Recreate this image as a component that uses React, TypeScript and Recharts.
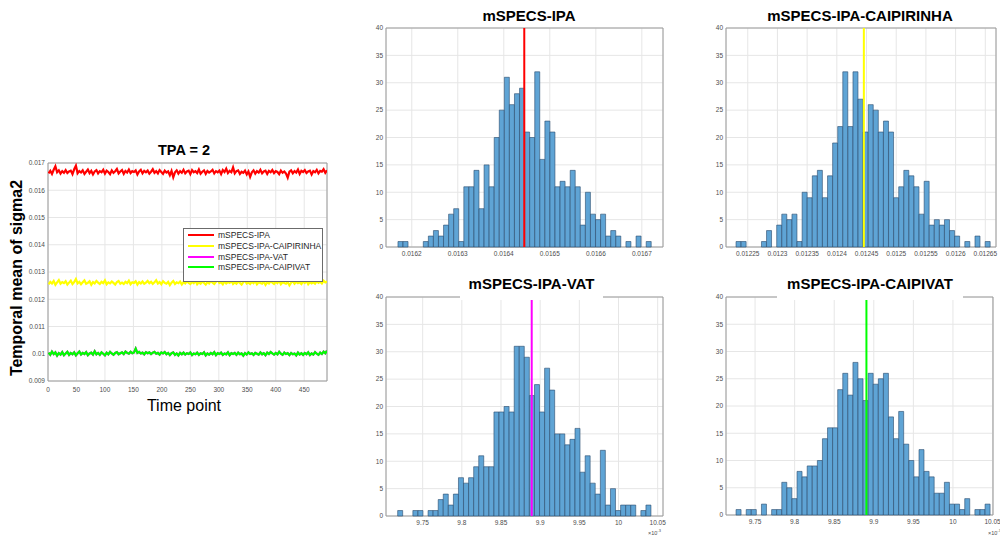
import {
  LineChart, Line, BarChart, Bar, XAxis, YAxis, CartesianGrid,
  ReferenceLine, ReferenceArea, Legend,
} from 'recharts'

const FONT = '"Liberation Sans", Arial, Helvetica, sans-serif'
const BOX_GREY = '#9a9a9a'
const GRID_GREY = '#e6e6e6'
const TICK_TEXT = '#4d4d4d'
const BAR_FILL = '#5fa4d5'
const BAR_EDGE = '#284a6b'

// ---- TPA = 2 : temporal mean of sigma2, sampled every 3rd time point (units of 1e-3) ----
const ipaTrace = [
  16.62, 16.71, 16.60, 16.75, 16.88, 16.66, 16.73, 16.61, 16.70, 16.64,
  16.74, 16.63, 16.69, 16.72, 16.59, 16.77, 16.90, 16.62, 16.70, 16.65,
  16.73, 16.60, 16.68, 16.76, 16.63, 16.71, 16.58, 16.69, 16.74, 16.62,
  16.70, 16.66, 16.75, 16.61, 16.72, 16.67, 16.59, 16.73, 16.64, 16.70,
  16.78, 16.62, 16.69, 16.74, 16.60, 16.71, 16.65, 16.76, 16.63, 16.70,
  16.67, 16.73, 16.58, 16.69, 16.75, 16.62, 16.71, 16.66, 16.72, 16.61,
  16.68, 16.77, 16.64, 16.70, 16.62, 16.74, 16.67, 16.60, 16.72, 16.65,
  16.69, 16.55, 16.71, 16.48, 16.66, 16.73, 16.61, 16.70, 16.64, 16.75,
  16.62, 16.69, 16.72, 16.59, 16.74, 16.66, 16.70, 16.63, 16.76, 16.61,
  16.68, 16.73, 16.60, 16.71, 16.65, 16.69, 16.75, 16.62, 16.70, 16.66,
  16.72, 16.59, 16.74, 16.67, 16.79, 16.63, 16.71, 16.66, 16.84, 16.62,
  16.70, 16.73, 16.60, 16.68, 16.64, 16.72, 16.58, 16.69, 16.49, 16.66,
  16.73, 16.61, 16.70, 16.65, 16.75, 16.62, 16.69, 16.72, 16.60, 16.71,
  16.66, 16.74, 16.63, 16.70, 16.67, 16.59, 16.72, 16.64, 16.69, 16.61,
  16.46, 16.68, 16.73, 16.62, 16.70, 16.65, 16.76, 16.60, 16.71, 16.67,
  16.74, 16.63, 16.69, 16.72, 16.58, 16.70, 16.66, 16.75, 16.62, 16.71,
  16.68, 16.77, 16.64, 16.73,
]
const caipirinhaTrace = [
  12.55, 12.64, 12.58, 12.67, 12.53, 12.62, 12.70, 12.57, 12.63, 12.59,
  12.66, 12.54, 12.61, 12.68, 12.56, 12.63, 12.74, 12.58, 12.64, 12.55,
  12.62, 12.69, 12.57, 12.60, 12.66, 12.53, 12.63, 12.58, 12.67, 12.61,
  12.56, 12.64, 12.59, 12.69, 12.55, 12.62, 12.58, 12.65, 12.60, 12.54,
  12.63, 12.67, 12.57, 12.61, 12.56, 12.64, 12.59, 12.68, 12.55, 12.62,
  12.60, 12.66, 12.54, 12.63, 12.58, 12.65, 12.57, 12.61, 12.67, 12.59,
  12.64, 12.56, 12.62, 12.70, 12.58, 12.63, 12.55, 12.66, 12.60, 12.57,
  12.64, 12.52, 12.61, 12.67, 12.56, 12.62, 12.59, 12.65, 12.54, 12.63,
  12.58, 12.66, 12.60, 12.56, 12.64, 12.59, 12.68, 12.55, 12.62, 12.57,
  12.65, 12.60, 12.54, 12.63, 12.58, 12.67, 12.61, 12.56, 12.64, 12.71,
  12.59, 12.62, 12.55, 12.66, 12.58, 12.63, 12.60, 12.68, 12.56, 12.62,
  12.57, 12.65, 12.60, 12.54, 12.63, 12.69, 12.58, 12.61, 12.56, 12.64,
  12.59, 12.67, 12.55, 12.62, 12.60, 12.57, 12.65, 12.53, 12.62, 12.58,
  12.66, 12.61, 12.56, 12.64, 12.59, 12.68, 12.55, 12.62, 12.60, 12.57,
  12.63, 12.51, 12.61, 12.66, 12.57, 12.64, 12.59, 12.62, 12.56, 12.65,
  12.60, 12.67, 12.55, 12.63, 12.58, 12.62, 12.57, 12.66, 12.60, 12.64,
  12.58, 12.68, 12.62, 12.65,
]
const caipivatTrace = [
  10.04, 9.96, 10.08, 9.99, 10.05, 9.93, 10.02, 9.97, 10.06, 9.95,
  10.01, 10.07, 9.96, 10.03, 9.98, 10.05, 9.94, 10.02, 10.08, 9.97,
  10.03, 9.99, 10.06, 9.95, 10.01, 10.04, 9.97, 10.09, 9.98, 10.03,
  9.96, 10.05, 10.00, 9.94, 10.04, 9.98, 10.07, 10.01, 9.96, 10.03,
  10.06, 9.98, 10.02, 10.05, 9.99, 10.08, 10.03, 10.00, 10.07, 10.02,
  10.05, 10.19, 10.03, 10.07, 10.01, 10.04, 9.98, 10.06, 10.02, 10.05,
  9.99, 10.04, 10.07, 10.00, 10.03, 9.97, 10.05, 10.01, 10.06, 9.98,
  10.03, 9.95, 10.02, 10.05, 9.96, 10.01, 9.94, 10.03, 9.98, 10.04,
  9.97, 10.02, 9.99, 10.05, 9.95, 10.01, 9.98, 10.04, 9.96, 10.02,
  9.99, 10.05, 9.94, 10.01, 9.97, 10.03, 9.98, 10.06, 9.95, 10.02,
  9.99, 10.04, 9.96, 10.01, 9.98, 10.05, 9.95, 10.02, 9.99, 10.03,
  9.96, 10.04, 9.98, 10.01, 9.93, 10.02, 9.97, 10.05, 9.99, 10.02,
  9.96, 10.03, 10.00, 9.97, 10.05, 9.98, 10.02, 9.95, 10.04, 9.99,
  10.06, 10.01, 9.97, 10.03, 9.98, 10.07, 10.00, 9.96, 10.04, 9.99,
  10.02, 9.95, 10.03, 9.98, 10.01, 9.94, 10.04, 9.97, 10.02, 9.96,
  10.03, 9.98, 10.05, 9.95, 10.01, 9.97, 10.06, 10.00, 9.96, 10.04,
  9.99, 10.08, 10.02, 10.11,
]
// the magenta VAT trace is completely hidden under the green one in the figure
const vatTrace = caipivatTrace

const timeTicks = [0, 50, 100, 150, 200, 250, 300, 350, 400, 450]
const sigmaTicks = [9, 10, 11, 12, 13, 14, 15, 16, 17]

const seriesKeys = ['ipa', 'caipirinha', 'vat', 'caipivat']
const seriesNames = ['mSPECS-IPA', 'mSPECS-IPA-CAIPIRINHA', 'mSPECS-IPA-VAT', 'mSPECS-IPA-CAIPIVAT']
const seriesColors = ['#ff0000', '#ffff00', '#ff00ff', '#00ff00']

// ---- histograms: 50 bins each, counts ----
const countTicks = [0, 5, 10, 15, 20, 25, 30, 35, 40]

const ipaCounts = [1, 1, 0, 0, 0, 1, 2, 3, 2, 4, 6, 7, 1, 11, 11, 14, 7, 15, 11, 20, 25, 31, 26, 28, 29, 21, 20, 32, 16, 23, 21, 11, 12, 11, 14, 11, 4, 10, 6, 5, 6, 2, 3, 2, 0, 1, 0, 2, 0, 1]
const ipaBins = { start: 0.01617, width: 0.00001101, mean: 0.0164445 }
const ipaXDomain = [0.016144, 0.016746]
const ipaXTicks = [0.0162, 0.0163, 0.0164, 0.0165, 0.0166, 0.0167]

const caipirinhaCounts = [1, 1, 0, 0, 0, 1, 3, 0, 4, 6, 5, 6, 1, 10, 9, 13, 14, 9, 13, 19, 22, 32, 22, 32, 27, 21, 26, 25, 21, 23, 21, 9, 11, 14, 13, 11, 6, 12, 4, 5, 4, 5, 3, 2, 0, 1, 0, 2, 0, 1]
const caipirinhaBins = { start: 0.0122303, width: 0.00000856, mean: 0.0124455 }
const caipirinhaXDomain = [0.0122134, 0.012668]
const caipirinhaXTicks = [0.01225, 0.0123, 0.01235, 0.0124, 0.01245, 0.0125, 0.01255, 0.0126, 0.01265]

// VAT / CAIPIVAT axes are shown in units of 1e-3
const vatCounts = [1, 0, 0, 1, 1, 0, 1, 1, 3, 4, 2, 4, 7, 6, 7, 9, 11, 9, 9, 19, 19, 20, 19, 31, 31, 29, 22, 24, 19, 27, 23, 15, 15, 13, 14, 16, 8, 11, 6, 4, 12, 2, 5, 1, 2, 2, 2, 0, 1, 2]
const vatBins = { start: 9.7181, width: 0.006468, mean: 9.8892 }
const vatXDomain = [9.7032, 10.0568]

const caipivatCounts = [1, 0, 1, 1, 0, 2, 0, 1, 1, 6, 5, 3, 8, 7, 9, 9, 10, 14, 16, 16, 23, 26, 22, 28, 25, 21, 26, 24, 25, 26, 18, 14, 19, 13, 10, 7, 12, 8, 7, 4, 4, 6, 2, 2, 1, 3, 0, 1, 1, 2]
const caipivatBins = { start: 9.726, width: 0.00642, mean: 9.8907 }
const caipivatXDomain = [9.7133, 10.0506]

const milliTicks = [9.75, 9.8, 9.85, 9.9, 9.95, 10, 10.05]

type Box = { x: number; y: number; w: number; h: number }

const tickStyle = { fontSize: 6.5, fill: TICK_TEXT }

function Histogram({ box, counts, bins, color, xDomain, xTicks }: {
  box: Box; counts: number[]; bins: { start: number; width: number; mean: number }
  color: string; xDomain: number[]; xTicks: number[]
}) {
  const rows = counts.map((n, i) => ({ x: bins.start + (i + 0.5) * bins.width, n }))
  return (
    <div style={{ position: 'absolute', left: box.x - 40, top: box.y - 10 }}>
      <BarChart
        width={box.w + 60} height={box.h + 32} data={rows}
        margin={{ top: 10, right: 20, bottom: 0, left: 0 }}
        barCategoryGap={0} barGap={0}
      >
        <CartesianGrid stroke={GRID_GREY} />
        <XAxis
          dataKey="x" type="number" domain={xDomain} ticks={xTicks} allowDataOverflow interval={0}
          height={22} axisLine={false} tickLine={false} tickSize={3} tickMargin={1} tick={tickStyle}
        />
        <YAxis
          type="number" domain={[0, 40]} ticks={countTicks} interval={0} width={40}
          axisLine={false} tickLine={false} tickSize={2} tickMargin={1} tick={tickStyle}
        />
        <Bar dataKey="n" fill={BAR_FILL} stroke={BAR_EDGE} strokeWidth={0.6} isAnimationActive={false} />
        <ReferenceLine x={bins.mean} stroke={color} strokeWidth={2} />
        <ReferenceArea x1={xDomain[0]} x2={xDomain[1]} y1={0} y2={40} fill="none" stroke={BOX_GREY} fillOpacity={0} />
      </BarChart>
    </div>
  )
}

function Title({ text, left, width, top, size, bold = true, cover = 0 }: {
  text: string; left: number; width: number; top: number; size: number; bold?: boolean; cover?: number
}) {
  return (
    <div style={{
      position: 'absolute', left, width, top, height: size + cover, textAlign: 'center',
      fontSize: size, lineHeight: `${size}px`, fontWeight: bold ? 700 : 400, color: '#000',
      background: cover ? '#fff' : 'transparent', whiteSpace: 'nowrap',
    }}>{text}</div>
  )
}

function LegendBox() {
  return (
    <div style={{
      width: 140, height: 54, border: '1px solid #6b6b6b', background: '#fff',
      boxSizing: 'border-box', paddingTop: 1, fontFamily: FONT,
    }}>
      {seriesNames.map((name, i) => (
        <div key={name} style={{ display: 'flex', alignItems: 'center', height: 10.7 }}>
          <span style={{ display: 'inline-block', width: 26, height: 2, background: seriesColors[i], marginLeft: 4, marginRight: 4 }} />
          <span style={{ fontSize: 8.5, color: '#262626', lineHeight: '10px' }}>{name}</span>
        </div>
      ))}
    </div>
  )
}

const traceRows = ipaTrace.map((v, i) => ({
  t: 1 + 3 * i, ipa: v, caipirinha: caipirinhaTrace[i], vat: vatTrace[i], caipivat: caipivatTrace[i],
}))

const exponentStyle = { position: 'absolute' as const, fontSize: 5.5, color: TICK_TEXT, lineHeight: '6px' }

export default function App() {
  const lineBox: Box = { x: 48, y: 163, w: 279, h: 218 }
  return (
    <div style={{
      position: 'absolute', left: 0, top: 0, width: 1000, height: 535, overflow: 'hidden',
      background: '#fff', fontFamily: FONT,
    }}>
      {/* left: time course */}
      <div style={{ position: 'absolute', left: lineBox.x - 48, top: lineBox.y - 10 }}>
        <LineChart
          width={lineBox.w + 58} height={lineBox.h + 32} data={traceRows}
          margin={{ top: 10, right: 10, bottom: 0, left: 0 }}
        >
          <CartesianGrid stroke={GRID_GREY} />
          <XAxis
            dataKey="t" type="number" domain={[0, 490]} ticks={timeTicks} interval={0} allowDataOverflow
            height={22} axisLine={false} tickLine={false} tickSize={4} tickMargin={2} tick={tickStyle}
          />
          <YAxis
            type="number" domain={[9, 17]} ticks={sigmaTicks} interval={0} width={48} allowDataOverflow
            axisLine={false} tickLine={false} tickSize={2} tickMargin={1} tick={tickStyle}
            tickFormatter={(v: number) => String(v / 1000)}
          />
          {seriesKeys.map((k, i) => (
            <Line
              key={k} type="linear" dataKey={k} name={seriesNames[i]} stroke={seriesColors[i]}
              strokeWidth={2.2} dot={false} isAnimationActive={false}
            />
          ))}
          <ReferenceArea x1={0} x2={490} y1={9} y2={17} fill="none" fillOpacity={0} stroke={BOX_GREY} />
          <Legend
            layout="horizontal" verticalAlign="middle" align="center"
            wrapperStyle={{ left: 183, top: 228 - (lineBox.y - 10), width: 140, height: 54 }}
            content={() => <LegendBox />}
          />
        </LineChart>
      </div>
      <Title text="TPA = 2" left={84} width={200} top={143} size={14.5} />
      <div style={{
        position: 'absolute', left: 16.5 - 150, top: 277.5 - 10, width: 300, height: 20,
        textAlign: 'center', lineHeight: '20px', fontSize: 16, fontWeight: 700,
        transform: 'rotate(-90deg)', whiteSpace: 'nowrap',
      }}>Temporal mean of sigma2</div>
      <Title text="Time point" left={84} width={200} top={398} size={16} bold={false} />

      {/* right: histograms */}
      <Histogram box={{ x: 386, y: 28, w: 277, h: 219 }} counts={ipaCounts} bins={ipaBins}
        color="#ff0000" xDomain={ipaXDomain} xTicks={ipaXTicks} />
      <Histogram box={{ x: 726, y: 28, w: 270, h: 219 }} counts={caipirinhaCounts} bins={caipirinhaBins}
        color="#ffff00" xDomain={caipirinhaXDomain} xTicks={caipirinhaXTicks} />
      <Histogram box={{ x: 386, y: 297, w: 277, h: 219 }} counts={vatCounts} bins={vatBins}
        color="#ff00ff" xDomain={vatXDomain} xTicks={milliTicks} />
      <Histogram box={{ x: 726, y: 297, w: 267, h: 218 }} counts={caipivatCounts} bins={caipivatBins}
        color="#00ff00" xDomain={caipivatXDomain} xTicks={milliTicks} />

      <Title text="mSPECS-IPA" left={429} width={200} top={7.5} size={15} />
      <Title text="mSPECS-IPA-CAIPIRINHA" left={760} width={200} top={8} size={15} />
      <Title text="mSPECS-IPA-VAT" left={460} width={143} top={275.5} size={15} cover={9} />
      <Title text="mSPECS-IPA-CAIPIVAT" left={777} width={186} top={275.5} size={15} cover={9} />

      <div style={{ ...exponentStyle, left: 648, top: 528 }}>×10<sup style={{ fontSize: 4 }}>-3</sup></div>
      <div style={{ ...exponentStyle, left: 988, top: 528 }}>×10<sup style={{ fontSize: 4 }}>-3</sup></div>
    </div>
  )
}
